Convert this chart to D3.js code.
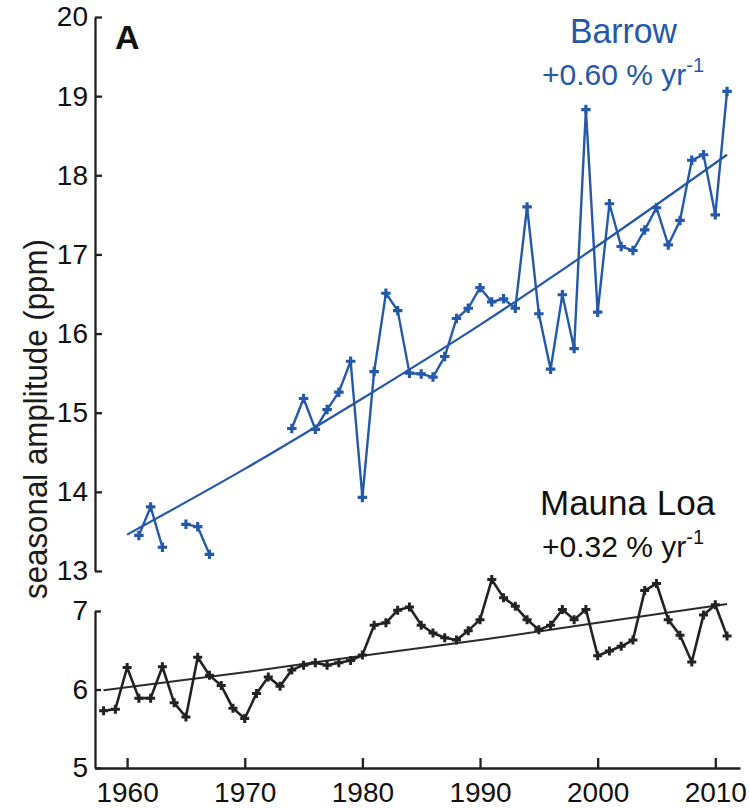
<!DOCTYPE html>
<html>
<head>
<meta charset="utf-8">
<script src="https://cdn.jsdelivr.net/npm/d3@7"></script>
<style>
  html, body { margin: 0; padding: 0; background: #fff; }
  svg { display: block; }
  text { font-family: "Liberation Sans", Arial, Helvetica, sans-serif; }
</style>
</head>
<body>
<svg id="chart" width="749" height="809"></svg>
<script>
// ---- data ----
const barrowYears = [1961,1962,1963,1964,1965,1966,1967,1968,1969,1970,1971,1972,1973,
  1974,1975,1976,1977,1978,1979,1980,1981,1982,1983,1984,1985,1986,1987,1988,1989,1990,
  1991,1992,1993,1994,1995,1996,1997,1998,1999,2000,2001,2002,2003,2004,2005,2006,2007,
  2008,2009,2010,2011];
const barrowValues = [13.45,13.81,13.30,null,13.59,13.56,13.21,null,null,null,null,null,null,
  14.80,15.18,14.79,15.04,15.26,15.65,13.93,15.52,16.51,16.29,15.50,15.49,15.45,15.71,16.19,16.32,16.58,
  16.40,16.44,16.32,17.60,16.25,15.55,16.49,15.81,18.83,16.27,17.64,17.10,17.05,17.31,17.59,17.12,17.43,
  18.19,18.26,17.50,19.06];
const barrowTrendYears = [1960,1970,1980,1990,2000,2011];
const barrowTrend = [13.46,14.29,15.18,16.11,17.11,18.26];

const maunaYears = [1958,1959,1960,1961,1962,1963,1964,1965,1966,1967,1968,1969,1970,1971,1972,
  1973,1974,1975,1976,1977,1978,1979,1980,1981,1982,1983,1984,1985,1986,1987,1988,1989,1990,
  1991,1992,1993,1994,1995,1996,1997,1998,1999,2000,2001,2002,2003,2004,2005,2006,2007,2008,
  2009,2010,2011];
const maunaValues = [5.73,5.75,6.28,5.89,5.89,6.29,5.83,5.65,6.41,6.18,6.05,5.76,5.63,5.95,6.16,
  6.04,6.25,6.31,6.34,6.31,6.34,6.37,6.44,6.82,6.85,7.01,7.05,6.82,6.72,6.66,6.63,6.75,6.89,
  7.40,7.17,7.06,6.89,6.76,6.82,7.02,6.89,7.02,6.43,6.49,6.55,6.63,7.26,7.35,6.89,6.69,6.35,
  6.95,7.08,6.68];
const maunaTrendYears = [1958,1970,1980,1990,2000,2011];
const maunaTrend = [5.99,6.22,6.43,6.63,6.85,7.09];

const topTicks = [13,14,15,16,17,18,19,20];
const bottomTicks = [5,6,7];
const xTicks = [1960,1970,1980,1990,2000,2010];

// ---- layout ----
const svg = d3.select("#chart");
const blue = "#2458a8";
const ink = "#231f20";

const x = d3.scaleLinear().domain([1957.27, 2012.1]).range([95, 740]);
const yTop = d3.scaleLinear().domain([13, 20]).range([571, 17]);
const yBot = d3.scaleLinear().domain([5, 7]).range([768, 611]);

function styleAxis(g) {
  g.selectAll(".domain").attr("stroke", ink).attr("stroke-width", 2.3);
  g.selectAll(".tick line").attr("stroke", ink).attr("stroke-width", 2.3);
  g.selectAll(".tick text").attr("fill", "#111").style("font-size", "28px");
}

svg.append("g").attr("transform", "translate(95,0)")
  .call(d3.axisLeft(yTop).tickValues(topTicks).tickFormat(d3.format("d"))
    .tickSizeInner(-7).tickSizeOuter(0).tickPadding(7))
  .call(styleAxis);

svg.append("g").attr("transform", "translate(95,0)")
  .call(d3.axisLeft(yBot).tickValues(bottomTicks).tickFormat(d3.format("d"))
    .tickSizeInner(-6).tickSizeOuter(0).tickPadding(7))
  .call(styleAxis);

svg.append("g").attr("transform", "translate(0,768)")
  .call(d3.axisBottom(x).tickValues(xTicks).tickFormat(d3.format("d"))
    .tickSizeInner(-10).tickSizeOuter(0).tickPadding(14))
  .call(styleAxis);

// ---- Barrow ----
const bData = barrowYears.map((yr, i) => ({yr, v: barrowValues[i]}));
const bTrend = barrowTrendYears.map((yr, i) => ({yr, v: barrowTrend[i]}));

svg.append("path").datum(bTrend)
  .attr("fill", "none").attr("stroke", blue).attr("stroke-width", 2.2)
  .attr("d", d3.line().curve(d3.curveMonotoneX).x(d => x(d.yr)).y(d => yTop(d.v)));

svg.append("path").datum(bData)
  .attr("fill", "none").attr("stroke", blue).attr("stroke-width", 2.4).attr("stroke-linejoin", "round")
  .attr("d", d3.line().defined(d => d.v !== null).x(d => x(d.yr)).y(d => yTop(d.v)));

svg.append("g").selectAll("path").data(bData.filter(d => d.v !== null)).join("path")
  .attr("transform", d => `translate(${x(d.yr)},${yTop(d.v)})`)
  .attr("fill", blue)
  .attr("d", d3.symbol().type(d3.symbolCross).size(50));

// ---- Mauna Loa ----
const mData = maunaYears.map((yr, i) => ({yr, v: maunaValues[i]}));
const mTrend = maunaTrendYears.map((yr, i) => ({yr, v: maunaTrend[i]}));

svg.append("path").datum(mTrend)
  .attr("fill", "none").attr("stroke", "#2a2a2a").attr("stroke-width", 2)
  .attr("d", d3.line().curve(d3.curveMonotoneX).x(d => x(d.yr)).y(d => yBot(d.v)));

svg.append("path").datum(mData)
  .attr("fill", "none").attr("stroke", "#222").attr("stroke-width", 2.6).attr("stroke-linejoin", "round")
  .attr("d", d3.line().x(d => x(d.yr)).y(d => yBot(d.v)));

svg.append("g").selectAll("path").data(mData).join("path")
  .attr("transform", d => `translate(${x(d.yr)},${yBot(d.v)})`)
  .attr("fill", "#222")
  .attr("d", d3.symbol().type(d3.symbolCross).size(45));

// ---- texts ----
svg.append("text").attr("x", 115).attr("y", 49)
  .attr("fill", "#111").style("font-size", "34px").style("font-weight", "bold").text("A");

svg.append("text")
  .attr("transform", "translate(47,419) rotate(-90)")
  .attr("text-anchor", "middle").attr("fill", "#1a1a1a")
  .attr("textLength", 360).attr("lengthAdjust", "spacingAndGlyphs")
  .style("font-size", "34px").text("seasonal amplitude (ppm)");

svg.append("text").attr("x", 570).attr("y", 43)
  .attr("fill", blue).style("font-size", "35px")
  .attr("textLength", 107).attr("lengthAdjust", "spacingAndGlyphs").text("Barrow");

const t1 = svg.append("text").attr("x", 542).attr("y", 85).attr("fill", blue).style("font-size", "30px");
t1.append("tspan").text("+0.60 % yr");
t1.append("tspan").attr("dy", -13).style("font-size", "20px").text("-1");

svg.append("text").attr("x", 540).attr("y", 515)
  .attr("fill", "#111").style("font-size", "35px").text("Mauna Loa");

const t2 = svg.append("text").attr("x", 542).attr("y", 557).attr("fill", "#111").style("font-size", "30px");
t2.append("tspan").text("+0.32 % yr");
t2.append("tspan").attr("dy", -13).style("font-size", "20px").text("-1");
</script>
</body>
</html>
